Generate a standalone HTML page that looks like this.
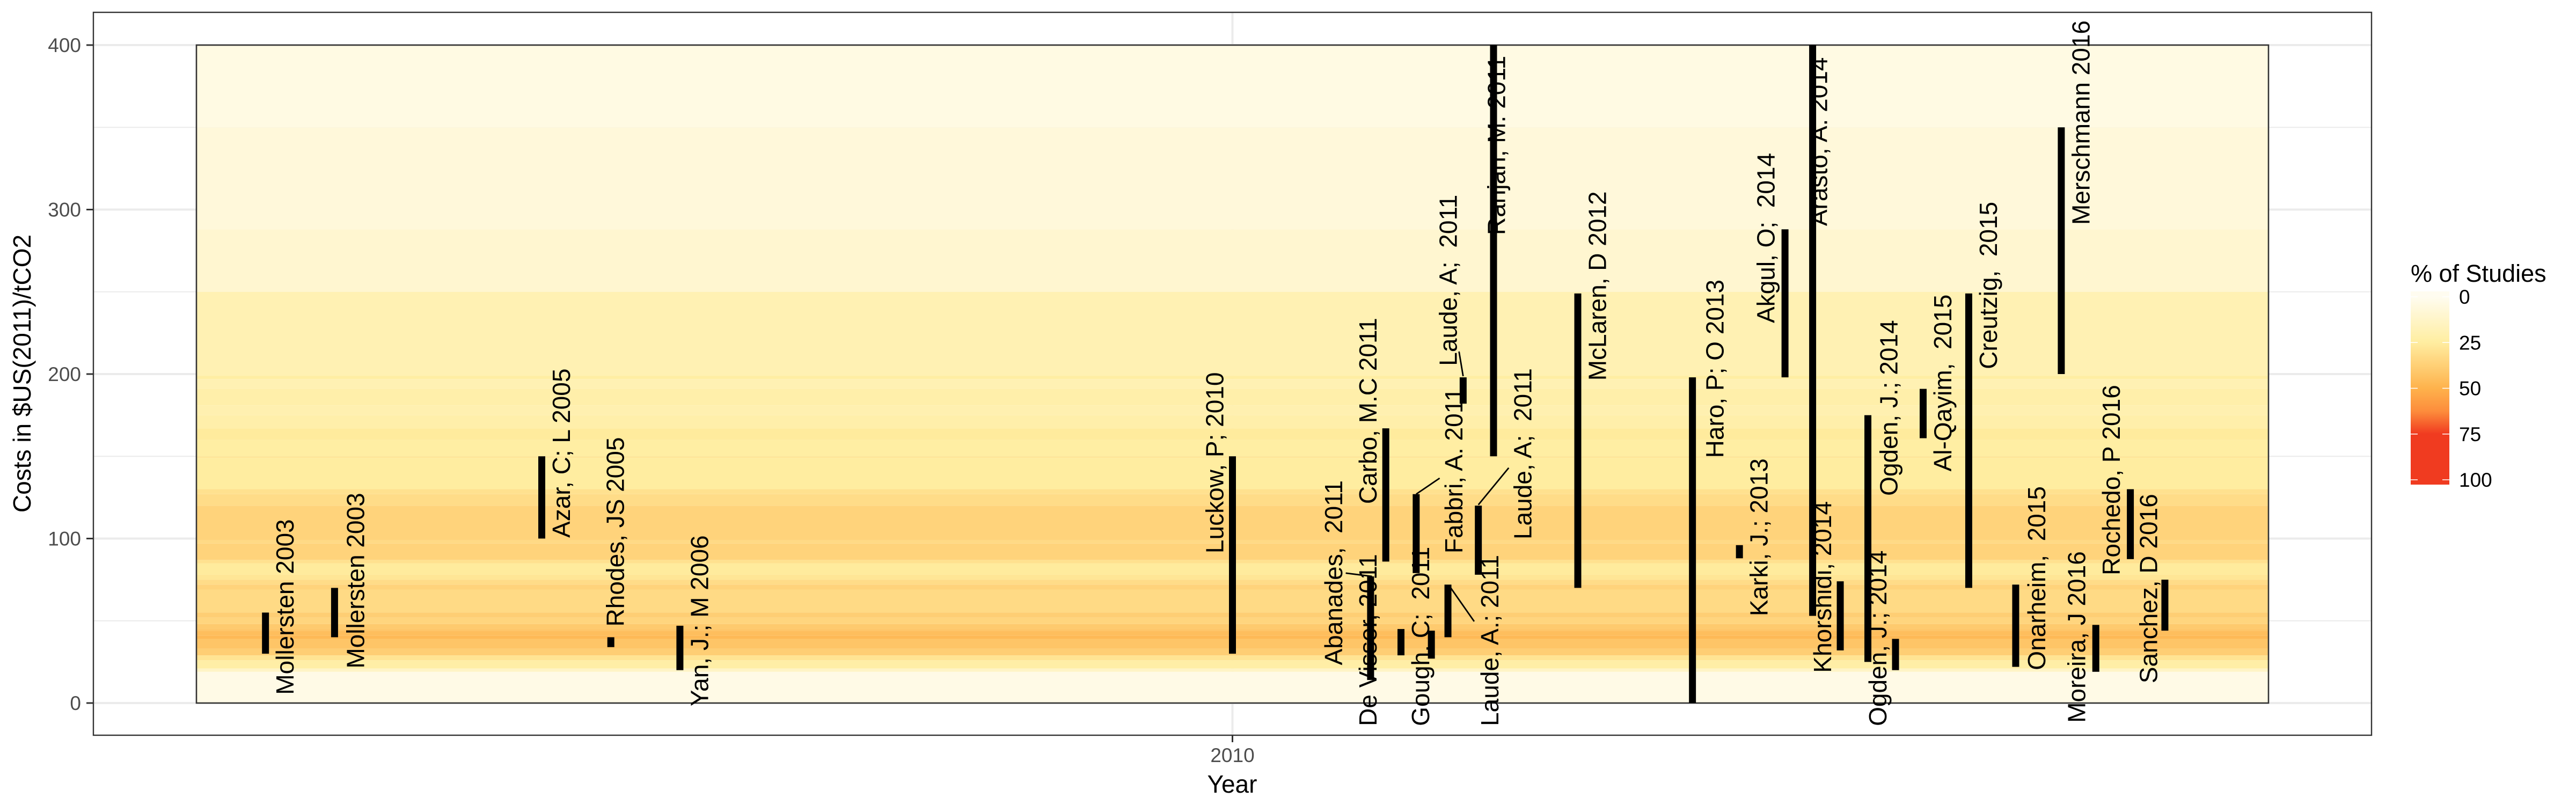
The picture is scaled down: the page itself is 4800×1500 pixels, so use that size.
<!DOCTYPE html>
<html><head><meta charset="utf-8"><title>Costs chart</title>
<style>html,body{margin:0;padding:0;background:#fff}svg{display:block}text{font-family:"Liberation Sans",Arial,sans-serif}</style>
</head><body>
<svg id="chart" xmlns="http://www.w3.org/2000/svg" width="4800" height="1500" viewBox="0 0 4800 1500"></svg>
<script>
// ---- data ----
const studyNames = ["Mollersten 2003","Mollersten 2003","Azar, C; L 2005","Rhodes, JS 2005","Yan, J.; M 2006","Luckow, P; 2010","Abanades,  2011","De Visser, 2011","Carbo, M.C 2011","Gough, C;  2011","Fabbri, A. 2011","Laude, A.; 2011","Laude, A;  2011","Ranjan, M. 2011","Laude, A;  2011","McLaren, D 2012","Haro, P; O 2013","Karki, J.; 2013","Akgul, O;  2014","Arasto, A. 2014","Khorshidi, 2014","Ogden, J.; 2014","Ogden, J.; 2014","Al-Qayim,  2015","Creutzig,  2015","Onarheim,  2015","Merschmann 2016","Moreira, J 2016","Rochedo, P 2016","Sanchez, D 2016"];
const barYears = [2003.00,2003.50,2005.00,2005.50,2006.00,2010.00,2011.00,2011.22,2011.11,2011.44,2011.33,2011.56,2011.67,2011.89,2011.78,2012.50,2013.33,2013.67,2014.00,2014.20,2014.40,2014.60,2014.80,2015.00,2015.33,2015.67,2016.00,2016.25,2016.50,2016.75];
const costLow  = [30,40,100,34,20,30,14,29,86,27,79,40,182,150,78,70,0,88,198,53,32,25,20,161,70,22,200,19,87.5,44];
const costHigh = [55,70,150,40,47,150,77,45,167,44,127,72,198,400,120,249,198,96,288,400,74,175,39,191,249,72,350,47.5,130,75];
const labelYears = [2003.14,2003.65,2005.14,2005.53,2006.14,2009.87,2010.73,2010.98,2010.98,2011.36,2011.60,2011.86,2011.56,2011.91,2012.10,2012.64,2013.49,2013.81,2013.86,2014.24,2014.27,2014.75,2014.67,2015.14,2015.47,2015.82,2016.14,2016.11,2016.36,2016.63];
const labelStart = [5,21,100.5,46.5,-2,91,23,-14,121,-14,91,-14,205,284.5,99.5,196,149,52.8,231,290,18.4,126,-14,140.8,203,20,290.7,-12,77.7,12];
// leader segments [year1, value1, year2, value2]
const leaders = [[2010.82,79,2011.01,77],[2011.33,127,2011.50,136.7],[2011.58,70,2011.75,49.6],[2011.78,120.5,2012.00,143],[2011.64,213.7,2011.67,198.7]];
// heat bands: lower, upper, % of studies
const bandLow  = [0,19,21,26,29,33,39,41,44,45,48,52,55,69,72,75,78,85,87,97,99,120,127,130,149,150,160,167,175,181,191,197,199,250,288,350];
const bandHigh = [19,21,26,29,33,39,41,44,45,48,52,55,69,72,75,78,85,87,97,99,120,127,130,149,150,160,167,175,181,191,197,199,250,288,350,400];
const bandPct  = [3,13,23,29,38,42,47,45,42,40,35,38,33,36,32,28,26,30,36,33,36,32,30,25,28,24,26,22,20,22,19,24,19,10,7,4];
const yTicks = [0,100,200,300,400];
const yMinor = [50,150,250,350];
const xTicks = [2010];
const legendTicks = [0,25,50,75,100];

// ---- scales ----
const X0=2296.5, XPY=257.4;
function xs(yr){return X0+(yr-2010)*XPY;}
function ys(v){return 1310-v*3.065;}
const colorStops=[[0,[255,252,240]],[25,[255,237,160]],[50,[254,178,76]],[62.5,[253,141,60]],[75,[240,59,32]],[100,[240,59,32]]];
function col(p){for(let i=0;i<colorStops.length-1;i++){const a=colorStops[i],b=colorStops[i+1];if(p<=b[0]){const t=(p-a[0])/(b[0]-a[0]);const c=a[1].map((v,k)=>Math.round(v+(b[1][k]-v)*t));return `rgb(${c.join(',')})`;}}return 'rgb(240,59,32)';}

const svg=document.getElementById('chart');
const NS='http://www.w3.org/2000/svg';
function mk(tag,attrs,parent){const e=document.createElementNS(NS,tag);for(const k in attrs)e.setAttribute(k,attrs[k]);(parent||svg).appendChild(e);return e;}

const PL=174,PT=23,PR=4419,PB=1370;
// grid
const grid=mk('g',{});


yMinor.forEach(v=>{const l=mk('line',{x1:PL,x2:PR,y1:ys(v),y2:ys(v),stroke:'#ebebeb','stroke-width':2},grid);

});
yTicks.forEach(v=>{const l=mk('line',{x1:PL,x2:PR,y1:ys(v),y2:ys(v),stroke:'#ebebeb','stroke-width':4},grid);

});
xTicks.forEach(t=>{const l=mk('line',{x1:xs(t),x2:xs(t),y1:PT,y2:PB,stroke:'#ebebeb','stroke-width':4},grid);

});

// heat bands
const heat=mk('g',{});


const RX1=xs(2002.5),RX2=xs(2017.5);
bandLow.forEach((lo,i)=>{const hi=bandHigh[i];const r=mk('rect',{x:RX1,y:ys(hi),width:RX2-RX1,height:ys(lo)-ys(hi),fill:col(bandPct[i])},heat);

});
const rb=mk('rect',{x:RX1,y:ys(400),width:RX2-RX1,height:ys(0)-ys(400),fill:'none',stroke:'#333','stroke-width':2.6});



// bars
const bars=mk('g',{});


barYears.forEach((yr,i)=>{const r=mk('rect',{x:xs(yr)-6.5,y:ys(costHigh[i]),width:13,height:ys(costLow[i])-ys(costHigh[i]),fill:'#000'},bars);

});

// leaders
leaders.forEach(s=>{const l=mk('line',{x1:xs(s[0]),y1:ys(s[1]),x2:xs(s[2]),y2:ys(s[3]),stroke:'#000','stroke-width':2.8});

});

// labels
const labs=mk('g',{});


studyNames.forEach((n,i)=>{const x=xs(labelYears[i])+16.5,y=ys(labelStart[i]);
const t=mk('text',{x:x,y:y,transform:`rotate(-90 ${x} ${y})`,'font-size':46,fill:'#000','xml:space':'preserve'},labs);
t.setAttribute('style','white-space:pre');
t.textContent=n;

});

// panel border
const pb=mk('rect',{x:PL,y:PT,width:PR-PL,height:PB-PT,fill:'none',stroke:'#333','stroke-width':2.4});



// y axis
yTicks.forEach(v=>{const tk=mk('line',{x1:PL-13,x2:PL,y1:ys(v),y2:ys(v),stroke:'#333','stroke-width':3});


const t=mk('text',{x:151,y:ys(v)+13,'text-anchor':'end','font-size':37,fill:'#4d4d4d'});
t.textContent=v;

});
xTicks.forEach(v=>{const tk=mk('line',{x1:xs(v),x2:xs(v),y1:PB,y2:PB+13,stroke:'#333','stroke-width':3});


const t=mk('text',{x:xs(v),y:1420,'text-anchor':'middle','font-size':37,fill:'#4d4d4d'});
t.textContent=v;

});
const yt=mk('text',{x:57,y:696,'text-anchor':'middle','font-size':46,fill:'#000',transform:'rotate(-90 57 696)'});
yt.textContent='Costs in $US(2011)/tCO2';


const xt=mk('text',{x:2296,y:1477,'text-anchor':'middle','font-size':46,fill:'#000'});
xt.textContent='Year';



// legend
const lg=mk('g',{});


const defs=mk('defs',{});
const grad=mk('linearGradient',{id:'lgGrad',x1:0,y1:0,x2:0,y2:1},defs);
const LT=543,LB=903,L0=553,L100=894;
for(let p=0;p<=100;p+=2.5){const off=(L0+p/100*(L100-L0)-LT)/(LB-LT);mk('stop',{offset:off,'stop-color':col(p)},grad);}
const lt=mk('text',{x:4492,y:525,'font-size':45,fill:'#000'},lg);
lt.textContent='% of Studies';


const cb=mk('rect',{x:4492,y:LT,width:72,height:LB-LT,fill:'url(#lgGrad)'},lg);


legendTicks.forEach(p=>{const y=L0+p/100*(L100-L0);
mk('line',{x1:4492,x2:4505,y1:y,y2:y,stroke:'#fff','stroke-width':1.5},lg);
mk('line',{x1:4551,x2:4564,y1:y,y2:y,stroke:'#fff','stroke-width':1.5},lg);
const t=mk('text',{x:4582,y:y+13,'font-size':37,fill:'#000'},lg);
t.textContent=p;

});
</script>
</body></html>
